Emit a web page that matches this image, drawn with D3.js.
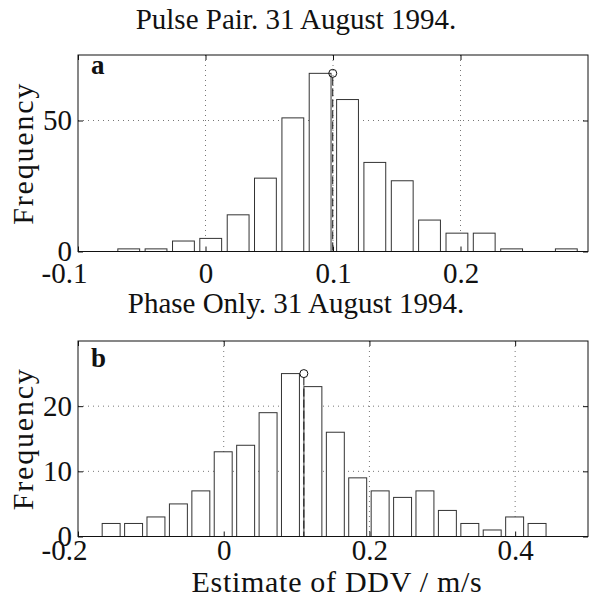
<!DOCTYPE html>
<html>
<head>
<meta charset="utf-8">
<script src="https://cdn.jsdelivr.net/npm/d3@7"></script>
<style>
  body { margin: 0; background: #fff; }
  svg { display: block; }
  text { font-family: "Liberation Serif", "Times New Roman", serif; fill: #111; }
</style>
</head>
<body>
<svg id="chart" width="591" height="607"></svg>
<script>
// panel a: pulse pair histogram
let centersA = [-0.0602, -0.0388, -0.0173, 0.0041, 0.0256, 0.0470, 0.0685, 0.0899, 0.1114,
                0.1328, 0.1543, 0.1757, 0.1972, 0.2186, 0.2401, 0.2615, 0.2830];
let countsA = [1, 1, 4, 5, 14, 28, 51, 68, 58, 34, 27, 12, 7, 7, 1, 0, 1];
let meanA = 0.0998;
let xTicksA = [-0.1, 0, 0.1, 0.2];
let yTicksA = [0, 50];

// panel b: phase only histogram
let centersB = [-0.1545, -0.1237, -0.0930, -0.0622, -0.0314, -0.0007, 0.0301, 0.0609, 0.0916, 0.1224,
                0.1532, 0.1839, 0.2147, 0.2455, 0.2762, 0.3070, 0.3378, 0.3685, 0.3993, 0.4301];
let countsB = [2, 2, 3, 5, 7, 13, 14, 19, 25, 23, 16, 9, 7, 6, 7, 4, 2, 1, 3, 2];
let meanB = 0.110;
let xTicksB = [-0.2, 0, 0.2, 0.4];
let yTicksB = [0, 10, 20];

let svg = d3.select('#chart');
let left = 78, right = 588;
let fs = 30;
let tfs = 29;

function fmt(d) {
    return d === 0 ? '0' : String(d);
}

function draw_panel(o) {
    let x = d3.scaleLinear().domain(o.xdom).range([left, right]);
    let y = d3.scaleLinear().domain(o.ydom).range([o.bottom, o.top]);
    let g = svg.append('g');

    // title
    svg.append('text')
        .attr('x', 296)
        .attr('y', o.titleY)
        .attr('text-anchor', 'middle')
        .attr('font-size', '29px')
        .text(o.title);

    // dotted grid
    g.selectAll('.gx')
        .data(o.xticks.filter(d => d !== o.xdom[0]))
        .enter()
        .append('line')
        .attr('x1', d => x(d)).attr('x2', d => x(d))
        .attr('y1', o.top).attr('y2', o.bottom)
        .attr('stroke', '#777')
        .attr('stroke-width', 1)
        .attr('stroke-dasharray', '1,4');

    g.selectAll('.gy')
        .data(o.yticks.filter(d => d !== 0))
        .enter()
        .append('line')
        .attr('x1', left).attr('x2', right)
        .attr('y1', d => y(d)).attr('y2', d => y(d))
        .attr('stroke', '#777')
        .attr('stroke-width', 1)
        .attr('stroke-dasharray', '1,4');

    // bars
    let bw = (o.centers[1] - o.centers[0]) * 0.8;
    let data = o.centers.map((c, i) => [c, o.counts[i]]).filter(d => d[1] > 0);
    g.selectAll('.bar')
        .data(data)
        .enter()
        .append('rect')
        .attr('x', d => x(d[0] - bw / 2))
        .attr('y', d => y(d[1]))
        .attr('width', d => x(d[0] + bw / 2) - x(d[0] - bw / 2))
        .attr('height', d => y(0) - y(d[1]))
        .attr('fill', '#fff')
        .attr('stroke', '#333')
        .attr('stroke-width', 1);

    // mean marker
    let peak = d3.max(o.counts);
    g.append('line')
        .attr('x1', x(o.mean)).attr('x2', x(o.mean))
        .attr('y1', y(peak) + 4).attr('y2', y(0))
        .attr('stroke', '#111')
        .attr('stroke-width', 1)
        .attr('stroke-dasharray', '8,3');
    g.append('circle')
        .attr('cx', x(o.mean))
        .attr('cy', y(peak))
        .attr('r', 4)
        .attr('fill', 'none')
        .attr('stroke', '#111')
        .attr('stroke-width', 1);

    // axes, ticks pointing inward
    let ax = g.append('g')
        .attr('transform', 'translate(0,' + o.bottom + ')')
        .call(d3.axisBottom(x).tickValues(o.xticks).tickFormat(fmt)
            .tickSizeInner(-5).tickSizeOuter(0).tickPadding(o.xpad));
    let ay = g.append('g')
        .attr('transform', 'translate(' + left + ',0)')
        .call(d3.axisLeft(y).tickValues(o.yticks).tickFormat(fmt)
            .tickSizeInner(-5).tickSizeOuter(0).tickPadding(6));
    let at = g.append('g')
        .attr('transform', 'translate(0,' + o.top + ')')
        .call(d3.axisTop(x).tickValues(o.xticks).tickFormat('')
            .tickSizeInner(-5).tickSizeOuter(0));
    let ar = g.append('g')
        .attr('transform', 'translate(' + right + ',0)')
        .call(d3.axisRight(y).tickValues(o.yticks).tickFormat('')
            .tickSizeInner(-5).tickSizeOuter(0));

    [ax, ay, at, ar].forEach(a => {
        a.select('.domain').remove();
        a.selectAll('line').attr('stroke', '#111');
        a.selectAll('text')
            .attr('font-family', '"Liberation Serif", serif')
            .attr('font-size', tfs + 'px')
            .attr('fill', '#111');
    });
    // negative labels sit a little left of their tick, as in the print
    ax.selectAll('text').attr('dx', d => d < 0 ? -14 : 0);

    // frame
    g.append('rect')
        .attr('x', left).attr('y', o.top)
        .attr('width', right - left)
        .attr('height', o.bottom - o.top)
        .attr('fill', 'none')
        .attr('stroke', '#111')
        .attr('stroke-width', 1);

    // panel letter
    g.append('text')
        .attr('x', 91)
        .attr('y', o.letterY)
        .attr('font-size', '27px')
        .attr('font-weight', 'bold')
        .text(o.letter);

    // y label
    g.append('text')
        .attr('transform', 'translate(33,' + ((o.top + o.bottom) / 2) + ') rotate(-90)')
        .attr('text-anchor', 'middle')
        .attr('font-size', fs + 'px')
        .attr('letter-spacing', '1.8px')
        .text('Frequency');
}

draw_panel({
    title: 'Pulse Pair. 31 August 1994.', titleY: 29, letter: 'a', letterY: 74,
    centers: centersA, counts: countsA, mean: meanA,
    xdom: [-0.1, 0.3], ydom: [0, 75], xticks: xTicksA, yticks: yTicksA,
    top: 55, bottom: 251.5, xpad: 11
});

draw_panel({
    title: 'Phase Only. 31 August 1994.', titleY: 313, letter: 'b', letterY: 367,
    centers: centersB, counts: countsB, mean: meanB,
    xdom: [-0.2, 0.5], ydom: [0, 30], xticks: xTicksB, yticks: yTicksB,
    top: 341, bottom: 536.5, xpad: 3
});

svg.append('text')
    .attr('x', 337)
    .attr('y', 592)
    .attr('text-anchor', 'middle')
    .attr('font-size', fs + 'px')
    .attr('letter-spacing', '0.7px')
    .text('Estimate of DDV / m/s');
</script>
</body>
</html>
